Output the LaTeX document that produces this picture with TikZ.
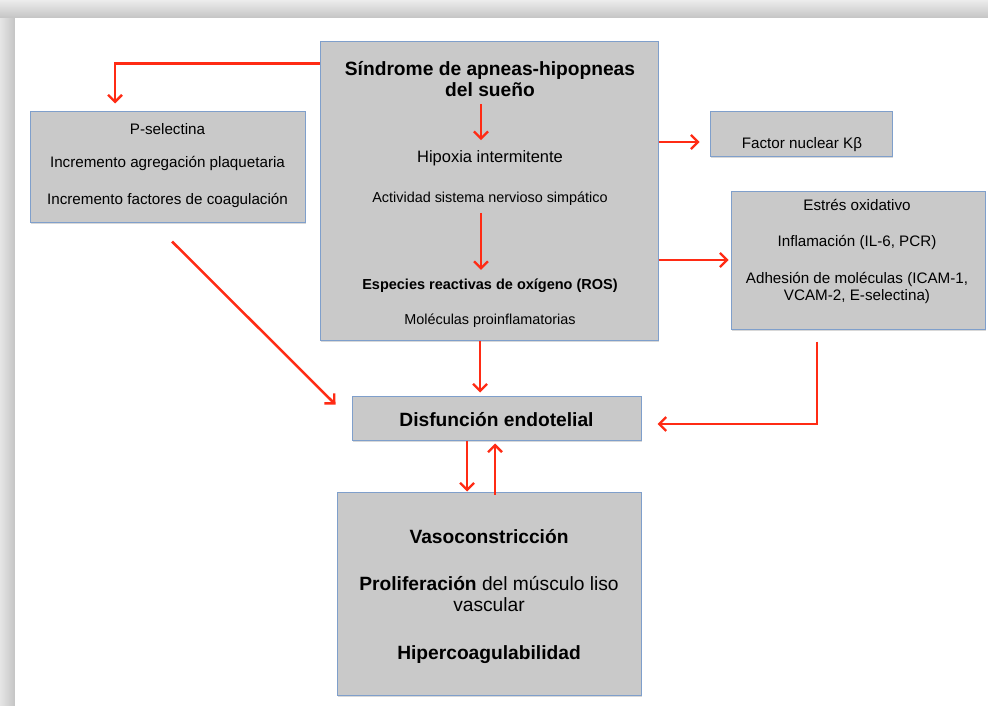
\documentclass[tikz,border=0pt]{standalone}
\usepackage{fontspec}
\setmainfont{Liberation Sans}
\usetikzlibrary{arrows.meta,shadows,calc}
\definecolor{boxfill}{HTML}{C9C9C9}
\definecolor{boxline}{HTML}{7F9FCB}
\definecolor{arrowred}{HTML}{FF2B14}
\definecolor{pageedge}{HTML}{C4C4C4}

\newcommand{\fs}[1]{\fontsize{#1}{#1}\selectfont}

\tikzset{
  box/.style={draw=boxline, line width=1pt, fill=boxfill, inner sep=0pt,
    drop shadow={shadow xshift=1pt, shadow yshift=-1.5pt, opacity=0.3}},
  link/.style={draw=arrowred, line width=2.5pt,
    -{Straight Barb[length=7pt,width=14pt,line width=2.3pt]}},
  txt/.style={inner sep=0pt, align=center, text=black},
}

\begin{document}
\begin{tikzpicture}[x=1pt, y=-1pt]
  \useasboundingbox (0,0) rectangle (988,706);

  % page sheet with its soft grey border
  \fill[pageedge] (0,0) rectangle (988,706);
  \shade[left color=gray!20, right color=pageedge] (0,0) rectangle (15,706);
  \shade[top color=gray!15, bottom color=pageedge] (0,0) rectangle (988,18);
  \fill[white] (15,18) rectangle (988,706);

  % boxes
  \node[box, minimum width=338pt, minimum height=298pt] (main) at (489,191) {};
  \node[box, minimum width=275pt, minimum height=110pt] (psel) at (167.5,167) {};
  \node[box, minimum width=182pt, minimum height=45pt] (fact) at (801,134.5) {};
  \node[box, minimum width=254pt, minimum height=138pt] (estres) at (858,260) {};
  \node[box, minimum width=289pt, minimum height=44pt] (disf) at (496.5,418) {};
  \node[box, minimum width=304pt, minimum height=203pt] (effects) at (489,593.5) {};

  % texts of the central box
  \node[txt, font=\fs{19.2}\bfseries, align=center] (title) at (490,79)
    {Síndrome de apneas-hipopneas\\[2pt]del sueño};
  \node[txt, font=\fs{16.5}] (hip) at (490,158) {Hipoxia intermitente};
  \node[txt, font=\fs{14.4}] (sns) at (490,199) {Actividad sistema nervioso simpático};
  \node[txt, font=\fs{14.5}\bfseries] (ros) at (490,286) {Especies reactivas de oxígeno (ROS)};
  \node[txt, font=\fs{14.4}] (prox) at (490,321) {Moléculas proinflamatorias};

  % texts of the left box
  \node[txt, font=\fs{15.2}] (psel1) at (167.5,129) {P-selectina};
  \node[txt, font=\fs{15.2}] (psel2) at (167.5,163) {Incremento agregación plaquetaria};
  \node[txt, font=\fs{15.2}] (psel3) at (167.5,200) {Incremento factores de coagulación};

  % texts of the right boxes
  \node[txt, font=\fs{15.2}] (facttxt) at (802,145) {Factor nuclear Kβ};
  \node[txt, font=\fs{15.2}] (est1) at (857,205) {Estrés oxidativo};
  \node[txt, font=\fs{15.2}] (est2) at (857,242) {Inflamación (IL-6, PCR)};
  \node[txt, font=\fs{15.2}] (est3) at (857,288) {Adhesión de moléculas (ICAM-1,\\[1pt]VCAM-2, E-selectina)};

  % texts of the lower boxes
  \node[txt, font=\fs{19.2}\bfseries] (disftxt) at (496.5,420) {Disfunción endotelial};
  \node[txt, font=\fs{19.2}\bfseries] (eff1) at (489,537) {Vasoconstricción};
  \node[txt, font=\fs{19.2}] (eff2) at (489,594) {\textbf{Proliferación} del músculo liso\\[2pt]vascular};
  \node[txt, font=\fs{19.2}\bfseries] (eff3) at (489,655) {Hipercoagulabilidad};

  % connectors
  \draw[link] ([shift={(0,22)}]main.north west) -| ([shift={(-52.5,-8)}]psel.north);
  \draw[link] ([shift={(-9,7)}]title.south) -- ([shift={(-9,-10)}]hip.north);
  \draw[link] ([shift={(-9,7)}]sns.south) -- ([shift={(-9,-9)}]ros.north);
  \draw[link] (main.east |- fact.west) ++(0,7.5) coordinate (fa) -- ([shift={(-10,7.5)}]fact.west);
  \draw[link] (main.east |- estres.west) -- ([shift={(-2,0)}]estres.west);
  \draw[link] ([shift={(-9,0)}]main.south) -- ([shift={(-16.5,-3)}]disf.north);
  \draw[link] ([shift={(4.5,19)}]psel.south) -- ([shift={(-16,9)}]disf.north west);
  \draw[link] ([shift={(-41,12)}]estres.south) |- ([shift={(16,6)}]disf.east);
  \draw[link] ([shift={(-29.5,0)}]disf.south) -- ([shift={(-22,0)}]effects.north);
  \draw[link] ([shift={(6,3)}]effects.north) -- ([shift={(-1.5,3)}]disf.south);
\end{tikzpicture}
\end{document}
